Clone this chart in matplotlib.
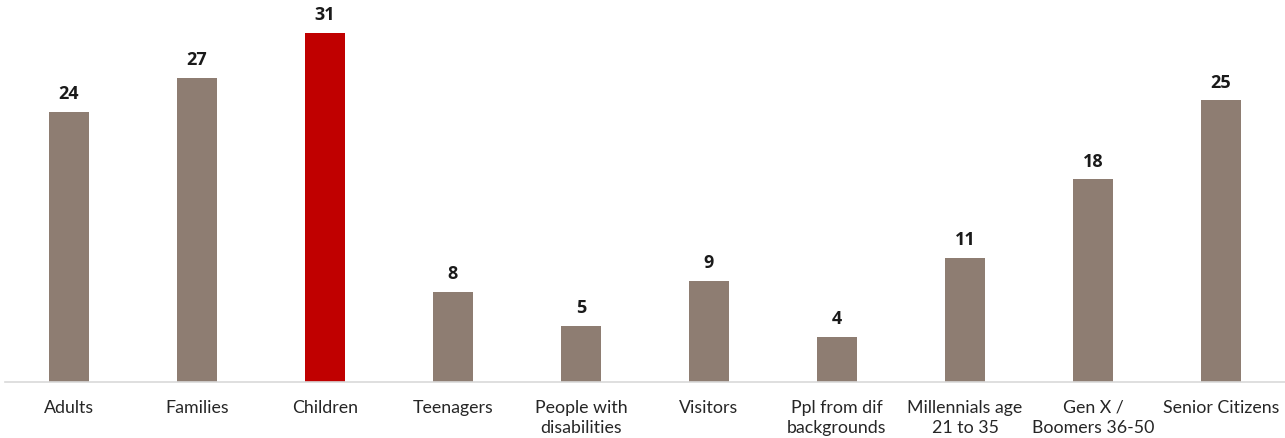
import matplotlib.pyplot as plt

# audience groups and counts
categories = ["Adults", "Families", "Children", "Teenagers", "People with\ndisabilities",
              "Visitors", "Ppl from dif\nbackgrounds", "Millennials age\n21 to 35",
              "Gen X /\nBoomers 36-50", "Senior Citizens"]
counts = [24, 27, 31, 8, 5, 9, 4, 11, 18, 25]
highlight = "Children"

plt.rcParams['font.family'] = ['Lato', 'DejaVu Sans']

fig = plt.figure(figsize=(12.85, 4.39), dpi=100)
ax = fig.add_axes([5 / 1285, 56 / 439, 1280 / 1285, 383 / 439])

colors = ["#C00000" if c == highlight else "#8E7D72" for c in categories]
x = range(len(categories))
bars = ax.bar(x, counts, width=0.3125, color=colors)

for b, v in zip(bars, counts):
    ax.annotate(str(v), (b.get_x() + b.get_width() / 2, v), xytext=(0, 7),
                textcoords="offset points", ha="center", va="bottom",
                fontsize=13, fontweight="bold", color="#1a1a1a",
                family=["Open Sans", "DejaVu Sans"])

ax.set_xlim(-0.5, len(categories) - 0.5)
ax.set_ylim(0, 34.0)
ax.set_xticks(list(x))
ax.set_xticklabels(categories, fontsize=12.8, color="#262626", linespacing=1.3)
ax.tick_params(axis="x", length=0, pad=12)
ax.set_yticks([])
for s in ["top", "right", "left"]:
    ax.spines[s].set_visible(False)
ax.spines["bottom"].set_color("#D9D9D9")
ax.spines["bottom"].set_linewidth(1.2)

fig.savefig("out.png", dpi=100)
